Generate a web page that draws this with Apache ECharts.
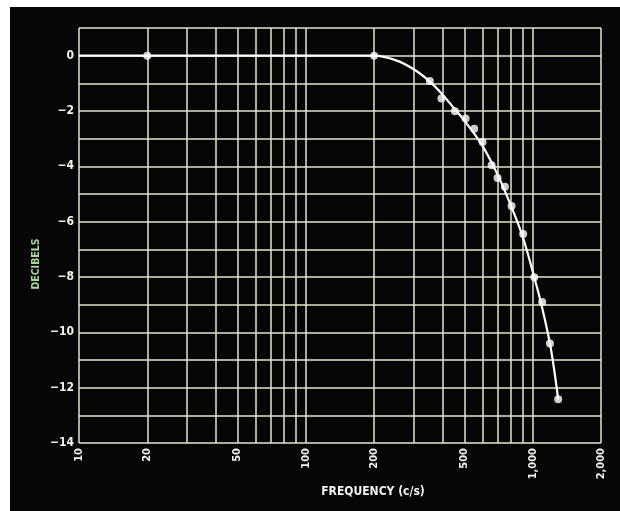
<!DOCTYPE html>
<html><head><meta charset="utf-8">
<script src="https://cdn.jsdelivr.net/npm/echarts@6/dist/echarts.min.js"></script>
<style>html,body{margin:0;padding:0;background:#fff}#c{width:620px;height:511px}</style>
</head><body><div id="c"></div>
<script>
const gridFreqs = [10,20,30,40,50,60,70,80,90,100,200,300,400,500,600,700,800,900,1000,2000];
const xTickValues = [10,20,50,100,200,500,1000,2000];
const xTickLabels = ['10','20','50','100','200','500','1,000','2,000'];
const yTickValues = [0,-2,-4,-6,-8,-10,-12,-14];
const yTickLabels = ['0','\u22122','\u22124','\u22126','\u22128','\u221210','\u221212','\u221214'];
const pointFreq = [20,200,352,396,454,506,552,601,659,700,754,807,908,1016,1101,1191,1295];
const pointDb = [0,0,-0.92,-1.55,-2.01,-2.27,-2.64,-3.12,-3.96,-4.42,-4.74,-5.43,-6.45,-8.01,-8.9,-10.4,-12.42];
const curveFreq = [10,180,200,250,300,350,400,450,500,600,700,800,900,1000,1100,1200,1295];
const curveDb = [0,0,0,-0.17,-0.5,-0.92,-1.4,-1.9,-2.35,-3.25,-4.3,-5.4,-6.5,-7.8,-9.1,-10.55,-12.42];
const xName = 'FREQUENCY (c/s)';
const yName = 'DECIBELS';

const gridColor = '#e4e4cc';
const textColor = '#f2f2ee';
const font = 'DejaVu Sans Condensed';

const chart = echarts.init(document.getElementById('c'));
chart.setOption({
  backgroundColor: '#ffffff',
  animation: false,
  graphic: [
    {type:'rect', z:-10, silent:true, shape:{x:10,y:7,width:610,height:504}, style:{fill:'#060606'}},
    {type:'text', x:373, y:492, style:{text:xName, fill:textColor, font:'bold 12px "'+font+'"', align:'center', verticalAlign:'middle'}},
    {type:'text', x:36, y:264, rotation:Math.PI/2, style:{text:yName, fill:'#a6d69c', font:'bold 10.5px "'+font+'"', align:'center', verticalAlign:'middle'}}
  ],
  grid: {left:79, right:19, top:28, bottom:68},
  xAxis: {
    type:'log', logBase:10, min:10, max:2000,
    axisLine:{show:false},
    axisTick:{show:false, customValues:gridFreqs},
    splitLine:{show:true, lineStyle:{color:gridColor, width:1.5}},
    axisLabel:{customValues:xTickValues, rotate:90, margin:5, color:textColor, fontFamily:font, fontWeight:'bold', fontSize:11,
      formatter: v => { const i = xTickValues.indexOf(Math.round(v)); return i>=0 ? xTickLabels[i] : ''; }}
  },
  yAxis: {
    type:'value', min:-14, max:1, interval:1,
    axisLine:{show:false}, axisTick:{show:false},
    splitLine:{show:true, lineStyle:{color:gridColor, width:1.5}},
    axisLabel:{margin:5, color:textColor, fontFamily:font, fontWeight:'bold', fontSize:12,
      formatter: v => { const i = yTickValues.indexOf(v); return i>=0 ? yTickLabels[i] : ''; }}
  },
  series: [
    {type:'line', data: curveFreq.map((f,i)=>[f,curveDb[i]]), showSymbol:false, smooth:0.35,
     lineStyle:{color:'#ffffff', width:2.2}, z:3},
    {type:'scatter', data: pointFreq.map((f,i)=>[f,pointDb[i]]), symbol:'circle', symbolSize:8,
     itemStyle:{color:'#ffffff'}, z:4}
  ]
});
</script></body></html>
